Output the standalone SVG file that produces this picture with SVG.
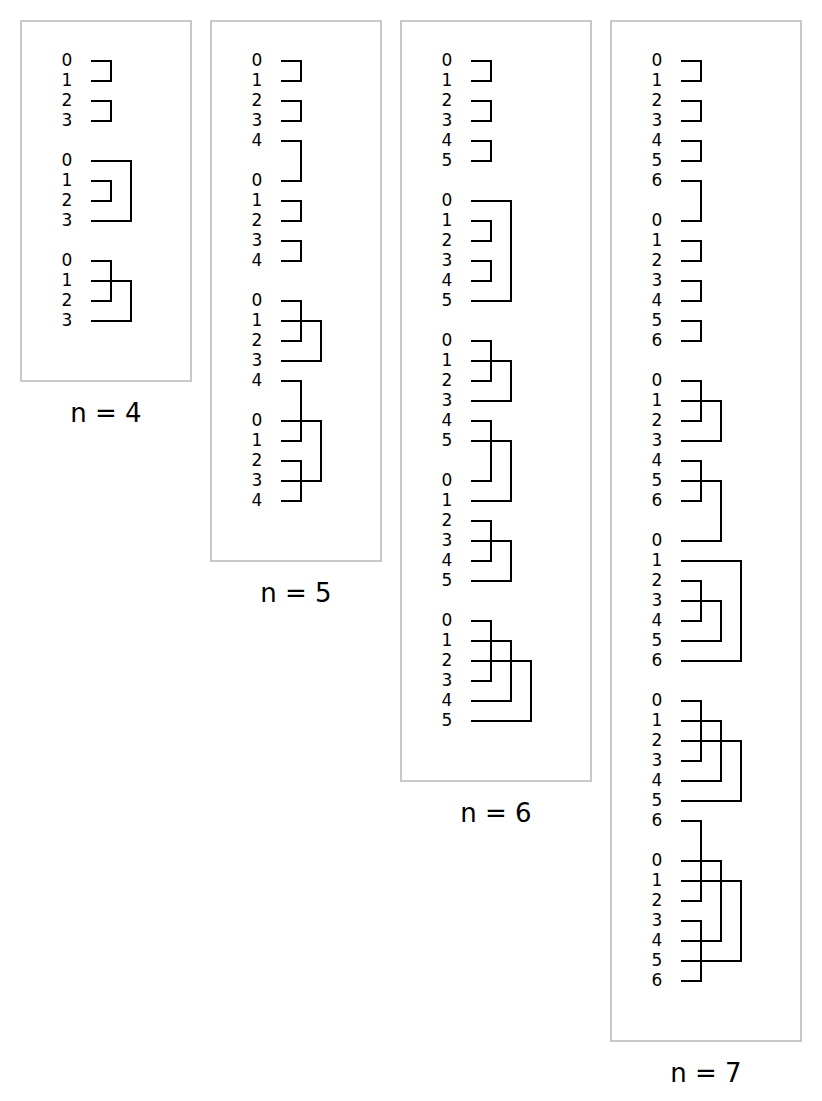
<svg xmlns="http://www.w3.org/2000/svg" width="822" height="1101" viewBox="0 0 822 1101">
<style>
.frame{fill:#fff;stroke:#c8c8c8;stroke-width:2}
.cmp{fill:none;stroke:#000;stroke-width:2}
.lbl{font-family:"DejaVu Sans","Liberation Sans",sans-serif;font-size:17px;fill:#000;text-anchor:middle}
.cap{font-family:"DejaVu Sans","Liberation Sans",sans-serif;font-size:26px;fill:#000;text-anchor:middle}
</style>
<rect width="822" height="1101" fill="#fff"/>
<g id="panel-n4">
<rect class="frame" x="21" y="21" width="170" height="360"/>
<g class="lbl">
<text x="67" y="66">0</text><text x="67" y="86">1</text><text x="67" y="106">2</text><text x="67" y="126">3</text>
<text x="67" y="166">0</text><text x="67" y="186">1</text><text x="67" y="206">2</text><text x="67" y="226">3</text>
<text x="67" y="266">0</text><text x="67" y="286">1</text><text x="67" y="306">2</text><text x="67" y="326">3</text>
</g>
<g id="connectors-n4" class="cmp">
<path d="M91 61H111V81H91"/>
<path d="M91 101H111V121H91"/>
<path d="M91 161H131V221H91"/>
<path d="M91 181H111V201H91"/>
<path d="M91 261H111V301H91"/>
<path d="M91 281H131V321H91"/>
</g>
<text class="cap" x="106" y="422">n = 4</text>
</g>
<g id="panel-n5">
<rect class="frame" x="211" y="21" width="170" height="540"/>
<g class="lbl">
<text x="257" y="66">0</text><text x="257" y="86">1</text><text x="257" y="106">2</text><text x="257" y="126">3</text><text x="257" y="146">4</text>
<text x="257" y="186">0</text><text x="257" y="206">1</text><text x="257" y="226">2</text><text x="257" y="246">3</text><text x="257" y="266">4</text>
<text x="257" y="306">0</text><text x="257" y="326">1</text><text x="257" y="346">2</text><text x="257" y="366">3</text><text x="257" y="386">4</text>
<text x="257" y="426">0</text><text x="257" y="446">1</text><text x="257" y="466">2</text><text x="257" y="486">3</text><text x="257" y="506">4</text>
</g>
<g id="connectors-n5" class="cmp">
<path d="M281 61H301V81H281"/>
<path d="M281 101H301V121H281"/>
<path d="M281 141H301V181H281"/>
<path d="M281 201H301V221H281"/>
<path d="M281 241H301V261H281"/>
<path d="M281 301H301V341H281"/>
<path d="M281 321H321V361H281"/>
<path d="M281 381H301V441H281"/>
<path d="M281 421H321V481H281"/>
<path d="M281 461H301V501H281"/>
</g>
<text class="cap" x="296" y="602">n = 5</text>
</g>
<g id="panel-n6">
<rect class="frame" x="401" y="21" width="190" height="760"/>
<g class="lbl">
<text x="447" y="66">0</text><text x="447" y="86">1</text><text x="447" y="106">2</text><text x="447" y="126">3</text><text x="447" y="146">4</text><text x="447" y="166">5</text>
<text x="447" y="206">0</text><text x="447" y="226">1</text><text x="447" y="246">2</text><text x="447" y="266">3</text><text x="447" y="286">4</text><text x="447" y="306">5</text>
<text x="447" y="346">0</text><text x="447" y="366">1</text><text x="447" y="386">2</text><text x="447" y="406">3</text><text x="447" y="426">4</text><text x="447" y="446">5</text>
<text x="447" y="486">0</text><text x="447" y="506">1</text><text x="447" y="526">2</text><text x="447" y="546">3</text><text x="447" y="566">4</text><text x="447" y="586">5</text>
<text x="447" y="626">0</text><text x="447" y="646">1</text><text x="447" y="666">2</text><text x="447" y="686">3</text><text x="447" y="706">4</text><text x="447" y="726">5</text>
</g>
<g id="connectors-n6" class="cmp">
<path d="M471 61H491V81H471"/>
<path d="M471 101H491V121H471"/>
<path d="M471 141H491V161H471"/>
<path d="M471 201H511V301H471"/>
<path d="M471 221H491V241H471"/>
<path d="M471 261H491V281H471"/>
<path d="M471 341H491V381H471"/>
<path d="M471 361H511V401H471"/>
<path d="M471 421H491V481H471"/>
<path d="M471 441H511V501H471"/>
<path d="M471 521H491V561H471"/>
<path d="M471 541H511V581H471"/>
<path d="M471 621H491V681H471"/>
<path d="M471 641H511V701H471"/>
<path d="M471 661H531V721H471"/>
</g>
<text class="cap" x="496" y="822">n = 6</text>
</g>
<g id="panel-n7">
<rect class="frame" x="611" y="21" width="190" height="1020"/>
<g class="lbl">
<text x="657" y="66">0</text><text x="657" y="86">1</text><text x="657" y="106">2</text><text x="657" y="126">3</text><text x="657" y="146">4</text><text x="657" y="166">5</text><text x="657" y="186">6</text>
<text x="657" y="226">0</text><text x="657" y="246">1</text><text x="657" y="266">2</text><text x="657" y="286">3</text><text x="657" y="306">4</text><text x="657" y="326">5</text><text x="657" y="346">6</text>
<text x="657" y="386">0</text><text x="657" y="406">1</text><text x="657" y="426">2</text><text x="657" y="446">3</text><text x="657" y="466">4</text><text x="657" y="486">5</text><text x="657" y="506">6</text>
<text x="657" y="546">0</text><text x="657" y="566">1</text><text x="657" y="586">2</text><text x="657" y="606">3</text><text x="657" y="626">4</text><text x="657" y="646">5</text><text x="657" y="666">6</text>
<text x="657" y="706">0</text><text x="657" y="726">1</text><text x="657" y="746">2</text><text x="657" y="766">3</text><text x="657" y="786">4</text><text x="657" y="806">5</text><text x="657" y="826">6</text>
<text x="657" y="866">0</text><text x="657" y="886">1</text><text x="657" y="906">2</text><text x="657" y="926">3</text><text x="657" y="946">4</text><text x="657" y="966">5</text><text x="657" y="986">6</text>
</g>
<g id="connectors-n7" class="cmp">
<path d="M681 61H701V81H681"/>
<path d="M681 101H701V121H681"/>
<path d="M681 141H701V161H681"/>
<path d="M681 181H701V221H681"/>
<path d="M681 241H701V261H681"/>
<path d="M681 281H701V301H681"/>
<path d="M681 321H701V341H681"/>
<path d="M681 381H701V421H681"/>
<path d="M681 401H721V441H681"/>
<path d="M681 461H701V501H681"/>
<path d="M681 481H721V541H681"/>
<path d="M681 561H741V661H681"/>
<path d="M681 581H701V621H681"/>
<path d="M681 601H721V641H681"/>
<path d="M681 701H701V761H681"/>
<path d="M681 721H721V781H681"/>
<path d="M681 741H741V801H681"/>
<path d="M681 821H701V901H681"/>
<path d="M681 861H721V941H681"/>
<path d="M681 881H741V961H681"/>
<path d="M681 921H701V981H681"/>
</g>
<text class="cap" x="706" y="1082">n = 7</text>
</g>
</svg>
